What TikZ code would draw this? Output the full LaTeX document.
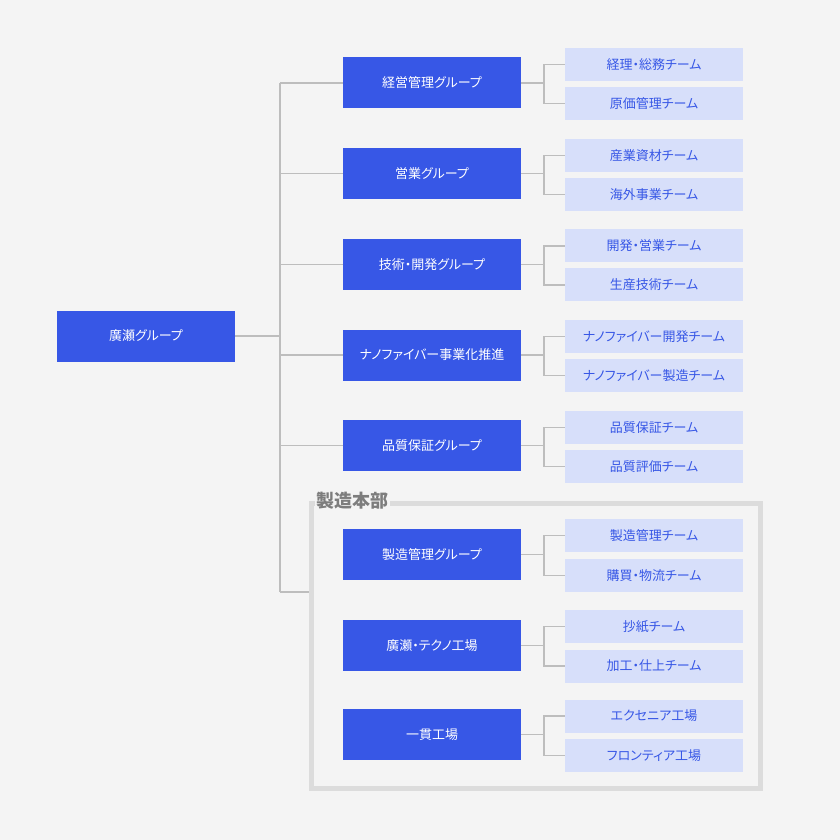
\documentclass[tikz,border=0pt]{standalone}
\usepackage{fontspec}
\setmainfont{Noto Sans CJK JP}[RawFeature=+palt]
\usetikzlibrary{positioning}

\definecolor{grpblue}{HTML}{3757E6}
\definecolor{teamfill}{HTML}{D7DFFA}
\definecolor{bggray}{HTML}{F4F4F4}
\definecolor{linegray}{HTML}{BDBDBD}
\definecolor{framegray}{HTML}{DCDCDC}
\definecolor{labelgray}{HTML}{7D7D7D}

\begin{document}
\begin{tikzpicture}[
    x=1pt, y=-1pt,
    every node/.style={font=\fontsize{13}{15}\selectfont},
    grp/.style={fill=grpblue, text=white, inner sep=0pt,
        minimum width=178pt, minimum height=51pt},
    team/.style={fill=teamfill, text=grpblue, inner sep=0pt,
        minimum width=178pt, minimum height=33pt},
    link/.style={draw=linegray, line width=1.2pt}
]
% Background
\fill[bggray] (0,0) rectangle (840,840);
\useasboundingbox (0,0) rectangle (840,840);

% Frame of the manufacturing division
\node[draw=framegray, line width=4.5pt, minimum width=449pt, minimum height=285pt,
    inner sep=0pt] (honbu) at (536,645.8) {};

% Root
\node[grp] (root) at (146,336) {廣瀬グループ};

% Groups
\node[grp] (g1) at (432,83)    {経営管理グループ};
\node[grp] (g2) at (432,173.7) {営業グループ};
\node[grp] (g3) at (432,264.4) {技術・開発グループ};
\node[grp] (g4) at (432,355)   {ナノファイバー事業化推進};
\node[grp] (g5) at (432,445.7) {品質保証グループ};
\node[grp] (g6) at (432,554.7) {製造管理グループ};
\node[grp] (g7) at (432,645.5) {廣瀬・テクノ工場};
\node[grp] (g8) at (432,734.8) {一貫工場};

% Teams
\node[team] (t1a) at (654,64.5)  {経理・総務チーム};
\node[team] (t1b) at (654,103.5) {原価管理チーム};
\node[team] (t2a) at (654,155.2) {産業資材チーム};
\node[team] (t2b) at (654,194.2) {海外事業チーム};
\node[team] (t3a) at (654,245.9) {開発・営業チーム};
\node[team] (t3b) at (654,284.9) {生産技術チーム};
\node[team] (t4a) at (654,336.5) {ナノファイバー開発チーム};
\node[team] (t4b) at (654,375.5) {ナノファイバー製造チーム};
\node[team] (t5a) at (654,427.2) {品質保証チーム};
\node[team] (t5b) at (654,466.2) {品質評価チーム};
\node[team] (t6a) at (654,535.8) {製造管理チーム};
\node[team] (t6b) at (654,575.3) {購買・物流チーム};
\node[team] (t7a) at (654,626.7) {抄紙チーム};
\node[team] (t7b) at (654,666)   {加工・仕上チーム};
\node[team] (t8a) at (654,716)   {エクセニア工場};
\node[team] (t8b) at (654,755.3) {フロンティア工場};

% Division label
\node[fill=bggray, text=labelgray, inner sep=1.5pt,
    font=\fontsize{18}{20}\selectfont\bfseries] (honbuLabel) at (352.5,501) {製造本部};

% Trunk
\coordinate (trTop) at (280,83);
\coordinate (trBot) at (280,592);
\coordinate (trRoot) at (280,336);
\draw[link] (root) -- (trRoot);
\draw[link] (trTop) -- (trBot);
\draw[link] (trTop) -- (g1);
\draw[link] (g2 -| trTop) -- (g2);
\draw[link] (g3 -| trTop) -- (g3);
\draw[link] (g4 -| trTop) -- (g4);
\draw[link] (g5 -| trTop) -- (g5);
\draw[link] (trBot) -- (trBot -| honbu.west);

% Group to team links
\coordinate (j1) at (544,83);
\coordinate (j2) at (544,173.7);
\coordinate (j3) at (544,264.4);
\coordinate (j4) at (544,355);
\coordinate (j5) at (544,445.7);
\coordinate (j6) at (544,554.7);
\coordinate (j7) at (544,645.5);
\coordinate (j8) at (544,734.8);
\draw[link] (g1) -- (j1); \draw[link] (t1a.west) -| (j1) |- (t1b.west);
\draw[link] (g2) -- (j2); \draw[link] (t2a.west) -| (j2) |- (t2b.west);
\draw[link] (g3) -- (j3); \draw[link] (t3a.west) -| (j3) |- (t3b.west);
\draw[link] (g4) -- (j4); \draw[link] (t4a.west) -| (j4) |- (t4b.west);
\draw[link] (g5) -- (j5); \draw[link] (t5a.west) -| (j5) |- (t5b.west);
\draw[link] (g6) -- (j6); \draw[link] (t6a.west) -| (j6) |- (t6b.west);
\draw[link] (g7) -- (j7); \draw[link] (t7a.west) -| (j7) |- (t7b.west);
\draw[link] (g8) -- (j8); \draw[link] (t8a.west) -| (j8) |- (t8b.west);
\end{tikzpicture}
\end{document}
